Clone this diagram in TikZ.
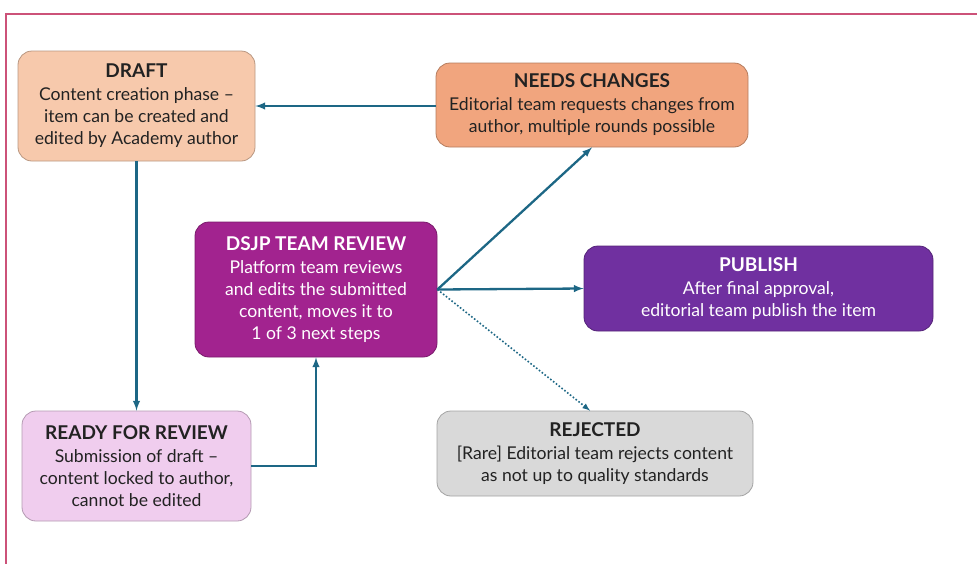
\documentclass[tikz,border=0pt]{standalone}
\usepackage{fontspec}
\setmainfont{Lato}
\usetikzlibrary{arrows.meta}
\tikzset{>=latex}
\definecolor{framecol}{HTML}{CC5279}
\definecolor{arrowcol}{HTML}{1D6785}
\definecolor{draftcol}{HTML}{F7C9AC}
\definecolor{changecol}{HTML}{F1A57E}
\definecolor{reviewcol}{HTML}{A2238F}
\definecolor{publishcol}{HTML}{7030A0}
\definecolor{readycol}{HTML}{F0CDEE}
\definecolor{rejectcol}{HTML}{D9D9D9}
\definecolor{textcol}{HTML}{222222}
\tikzset{
  stage/.style={draw=#1!75!black, fill=#1, rounded corners=14pt, align=center, text=textcol,
    line width=0.8pt, inner sep=0pt, font=\fontsize{17.6}{22}\selectfont},
  flow/.style={->, draw=arrowcol, line width=2.3pt},
}
\newcommand{\stagetitle}[1]{{\fontsize{19}{22}\selectfont\bfseries #1}\\[1pt]}

\begin{document}
\begin{tikzpicture}[x=1pt, y=-1pt]
                        \useasboundingbox (0,0) rectangle (977,563);
                        % frame
                        \draw[framecol, line width=2pt] (6,570) -- (6,14) -- (985,14);

                        \node[stage=draftcol, minimum width=237pt, minimum height=110pt] (draft) at (136.5,106) {\stagetitle{DRAFT}Content creation phase --\\item can be created and\\edited by Academy author};
                        \node[stage=changecol, minimum width=312pt, minimum height=84pt] (changes) at (592,105) {\stagetitle{NEEDS CHANGES}Editorial team requests changes from\\author, multiple rounds possible};
                        \node[stage=reviewcol, text=white, minimum width=242pt, minimum height=135pt] (review) at (316,289.5) {\stagetitle{DSJP TEAM REVIEW}Platform team reviews\\and edits the submitted\\content, moves it to\\1 of 3 next steps};
                        \node[stage=publishcol, text=white, minimum width=349pt, minimum height=85pt] (publish) at (758.5,288.5) {\stagetitle{PUBLISH}After final approval,\\editorial team publish the item};
                        \node[stage=readycol, minimum width=229pt, minimum height=110pt] (ready) at (136.5,466) {\stagetitle{READY FOR REVIEW}Submission of draft --\\content locked to author,\\cannot be edited};
                        \node[stage=rejectcol, minimum width=316pt, minimum height=85pt] (rejected) at (595,453.5) {\stagetitle{REJECTED}[Rare] Editorial team rejects content\\as not up to quality standards};

                        % changes back to draft
                        \draw[flow] (changes.west |- draft.east) -- (draft.east);
                        % draft to ready
                        \draw[flow] (draft.south) -- (ready.north);
                        % ready to review
                        \draw[flow] (ready.east) -| (review.south);
                        % review to the three next steps
                        \draw[flow] (review.east) -- (changes.south);
                        \draw[flow] (review.east) -- (publish.west);
                        \draw[flow, line width=1.6pt, dotted] (review.east) -- ([xshift=-5pt]rejected.north);
                    \end{tikzpicture}
\end{document}
